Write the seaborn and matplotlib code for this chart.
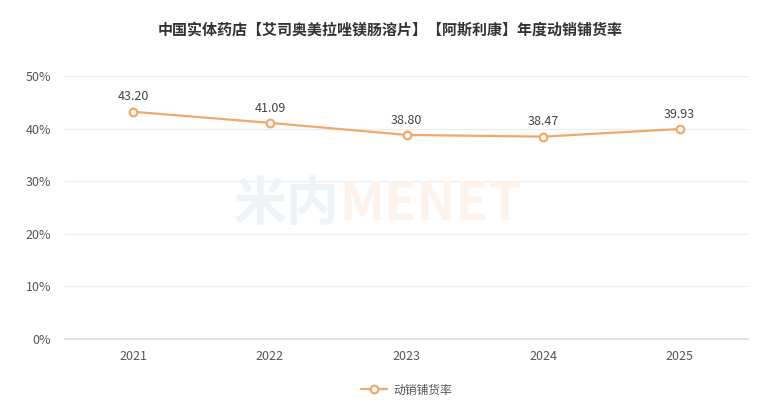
import seaborn as sns
import pandas as pd
from matplotlib import pyplot as plt
from matplotlib.ticker import FuncFormatter

years = ["2021", "2022", "2023", "2024", "2025"]
rates = [43.20, 41.09, 38.80, 38.47, 39.93]
series_name = "动销铺货率"
title = "中国实体药店【艾司奥美拉唑镁肠溶片】【阿斯利康】年度动销铺货率"

sns.set_theme(style="white")
plt.rcParams["font.family"] = ["Noto Sans CJK SC", "DejaVu Sans"]

color = "#f0a96b"
df = pd.DataFrame({"year": years, "rate": rates})

fig = plt.figure(figsize=(7.8, 4.0), dpi=100)
ax = fig.add_axes([65 / 780, 1 - 339 / 400, 683 / 780, 263 / 400])

# faint watermark
fig.text(0.435, 0.488, "米内", fontsize=38, fontweight="bold", color="#edf3f6",
         ha="right", va="center", zorder=0)
fig.text(0.435, 0.488, "MENET", fontsize=38, fontweight="bold", color="#fdf3eb",
         ha="left", va="center", zorder=0)

sns.lineplot(data=df, x="year", y="rate", ax=ax, color=color, linewidth=1.6,
             marker="o", markersize=5.5, markerfacecolor="white",
             markeredgecolor=color, markeredgewidth=1.6, label=series_name,
             zorder=3)

for i, v in enumerate(rates):
    ax.annotate(f"{v:.2f}", (i, v), xytext=(0, 6), textcoords="offset points",
                ha="center", va="bottom", fontsize=9, color="#444444")

ax.set_xlim(-0.5, 4.5)
ax.set_ylim(0, 50)
ax.set_yticks([0, 10, 20, 30, 40, 50])
ax.yaxis.set_major_formatter(FuncFormatter(lambda v, p: f"{v:.0f}%"))
ax.grid(axis="y", color="#ececec", linewidth=0.8)
ax.set_axisbelow(True)
for s in ["top", "right", "left"]:
    ax.spines[s].set_visible(False)
ax.spines["bottom"].set_color("#dddddd")
ax.tick_params(axis="both", length=0, labelsize=9, colors="#555555")
ax.tick_params(axis="x", pad=8)
ax.tick_params(axis="y", pad=10)
ax.set_xlabel("")
ax.set_ylabel("")
ax.patch.set_alpha(0)

fig.text(0.5, 1 - 30 / 400, title, ha="center", va="center", fontsize=10.8,
         fontweight="bold", color="#333333")

ax.legend(loc="center", bbox_to_anchor=(0.5, (339 - 390) / 263), frameon=False,
          fontsize=8.5, labelcolor="#555555", handlelength=2.2, handletextpad=0.5)

fig.savefig("out.png", dpi=100)
